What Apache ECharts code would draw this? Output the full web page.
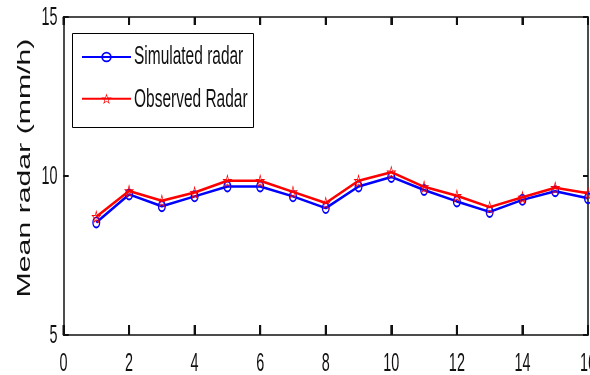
<!DOCTYPE html>
<html>
<head>
<meta charset="utf-8">
<script src="https://cdn.jsdelivr.net/npm/echarts@6/dist/echarts.min.js"></script>
<style>
  html, body { margin: 0; padding: 0; background: #fff; }
  #chart { width: 590px; height: 375px; }
</style>
</head>
<body>
<div id="chart"></div>
<script>
// Time step index along the x axis
const steps = [1, 2, 3, 4, 5, 6, 7, 8, 9, 10, 11, 12, 13, 14, 15, 16];
// Mean radar rain rate (mm/h)
const simulatedRadar = [8.54, 9.42, 9.05, 9.36, 9.67, 9.67, 9.36, 8.99, 9.67, 9.97, 9.56, 9.20, 8.87, 9.25, 9.52, 9.30];
const observedRadar  = [8.72, 9.53, 9.22, 9.48, 9.85, 9.85, 9.50, 9.15, 9.85, 10.12, 9.66, 9.38, 9.02, 9.33, 9.63, 9.46];
// Tick labels
const xTickLabels = ['0', '2', '4', '6', '8', '10', '12', '14', '16'];
const yTickLabels = ['5', '10', '15'];
const yAxisTitle = 'Mean radar (mm/h)';
const seriesNames = ['Simulated radar', 'Observed Radar'];

// Hollow marker outlines (outer contour + reversed inner contour)
const RING = 'path://M50,0 A50,50 0 1,1 50,100 A50,50 0 1,1 50,0 Z M50,16 A34,34 0 1,0 50,84 A34,34 0 1,0 50,16 Z';
const STAR_RING = 'path://M50,2 L61.76,35.82 L97.55,36.55 L69.02,58.18 L79.39,92.45 L50,72 L20.61,92.45 L30.98,58.18 L2.45,36.55 L38.24,35.82 Z ' +
                  'M50,21 L42.71,41.97 L20.52,42.42 L38.21,55.83 L31.78,77.08 L50,64.4 L68.22,77.08 L61.79,55.83 L79.48,42.42 L57.29,41.97 Z';
const AXIS_COLOR = '#111';
const BLUE = '#0000ff';
const RED = '#ff0000';

const chart = echarts.init(document.getElementById('chart'), null, { renderer: 'canvas' });

function axis(extra, tickLen) {
  return Object.assign({
    type: 'value',
    show: true,
    axisLine: { show: true, onZero: false, lineStyle: { color: AXIS_COLOR, width: 1.5 } },
    axisTick: { show: true, inside: true, length: tickLen, lineStyle: { color: AXIS_COLOR, width: 2 } },
    splitLine: { show: false },
    axisLabel: { show: false }
  }, extra);
}

// Legend row layout (icon column + text column inside a framed box)
const LEG = { left: 72, top: 33, right: 253, bottom: 127, iconLeft: 81, iconWidth: 49, textLeft: 134, rows: [57, 100] };
const ICON_H = 13;

chart.setOption({
  animation: false,
  grid: { left: 63.5, right: 2, top: 17, bottom: 40, containLabel: false, outerBoundsMode: 'none' },
  xAxis: [
    axis({ min: 0, max: 16, interval: 2, position: 'bottom' }, 10),
    axis({ min: 0, max: 16, interval: 2, position: 'top' }, 8)
  ],
  yAxis: [
    axis({ min: 5, max: 15, interval: 5, position: 'left' }, 5),
    axis({ min: 5, max: 15, interval: 5, position: 'right' }, 5)
  ],
  legend: {
    show: true,
    orient: 'vertical',
    left: LEG.iconLeft, top: LEG.rows[0] - ICON_H / 2,
    padding: 0,
    itemWidth: LEG.iconWidth, itemHeight: ICON_H,
    itemGap: (LEG.rows[1] - LEG.rows[0]) - ICON_H,
    formatter: function () { return ''; },
    data: seriesNames
  },
  series: [
    {
      name: seriesNames[0],
      type: 'line',
      xAxisIndex: 0, yAxisIndex: 0,
      color: BLUE,
      data: steps.map((x, i) => [x, simulatedRadar[i]]),
      symbol: RING,
      symbolSize: [8, 12],
      showAllSymbol: true,
      lineStyle: { color: BLUE, width: 2.5 },
      itemStyle: { color: BLUE },
      z: 2
    },
    {
      name: seriesNames[1],
      type: 'line',
      xAxisIndex: 1, yAxisIndex: 1,
      color: RED,
      data: steps.map((x, i) => [x, observedRadar[i]]),
      symbol: STAR_RING,
      symbolSize: [10, 14],
      showAllSymbol: true,
      lineStyle: { color: RED, width: 2.5 },
      itemStyle: { color: RED },
      z: 3
    }
  ]
});

// Tick marks (thin filled bars), tick labels, axis title and legend frame/text, placed from the axis scales
const FONT = '18px "Liberation Sans", Arial, sans-serif';
const graphics = [];
const toPx = (x, y) => chart.convertToPixel({ xAxisIndex: 0, yAxisIndex: 0 }, [x, y]);
const tickBar = (x, y, w, h) => ({
  type: 'rect', silent: true, z: 100,
  shape: { x: x, y: y, width: w, height: h },
  style: { fill: AXIS_COLOR }
});
const bottomY = toPx(0, 5)[1];
const topY = toPx(0, 15)[1];
const leftX = toPx(0, 5)[0];
const rightX = toPx(16, 5)[0];

xTickLabels.forEach(function (t) {
  const p = toPx(Number(t), 5);
  graphics.push(tickBar(p[0] - 1, bottomY - 10, 2, 10));
  graphics.push(tickBar(p[0] - 1, topY, 2, 8));
  graphics.push({
    type: 'text', x: p[0], y: p[1] + 29, scaleX: 0.8, scaleY: 1.4, silent: true,
    style: { text: t, font: FONT, fill: '#111', align: 'center', verticalAlign: 'middle' }
  });
});
yTickLabels.forEach(function (t) {
  const p = toPx(0, Number(t));
  graphics.push(tickBar(leftX, p[1] - 1, 5, 2));
  graphics.push(tickBar(rightX - 5, p[1] - 1, 5, 2));
  graphics.push({
    type: 'text', x: p[0] - 6, y: p[1] + 1, scaleX: 0.8, scaleY: 1.4, silent: true,
    style: { text: t, font: FONT, fill: '#111', align: 'right', verticalAlign: 'middle' }
  });
});
graphics.push({
  type: 'text', x: 25, y: toPx(0, 10)[1] - 8, rotation: Math.PI / 2, scaleX: 1.44, scaleY: 0.9, silent: true,
  style: { text: yAxisTitle, font: '21px "Liberation Sans", Arial, sans-serif', fill: '#111', align: 'center', verticalAlign: 'middle' }
});
graphics.push({
  type: 'rect', silent: true, z: 1,
  shape: { x: LEG.left + 0.5, y: LEG.top + 0.5, width: LEG.right - LEG.left, height: LEG.bottom - LEG.top },
  style: { fill: 'none', stroke: '#000', lineWidth: 1 }
});
seriesNames.forEach(function (name, i) {
  graphics.push({
    type: 'text', x: LEG.textLeft, y: LEG.rows[i], scaleX: 0.86, scaleY: 1.4, silent: true,
    style: { text: name, font: FONT, fill: '#111', align: 'left', verticalAlign: 'middle' }
  });
});
chart.setOption({ graphic: graphics });
</script>
</body>
</html>
